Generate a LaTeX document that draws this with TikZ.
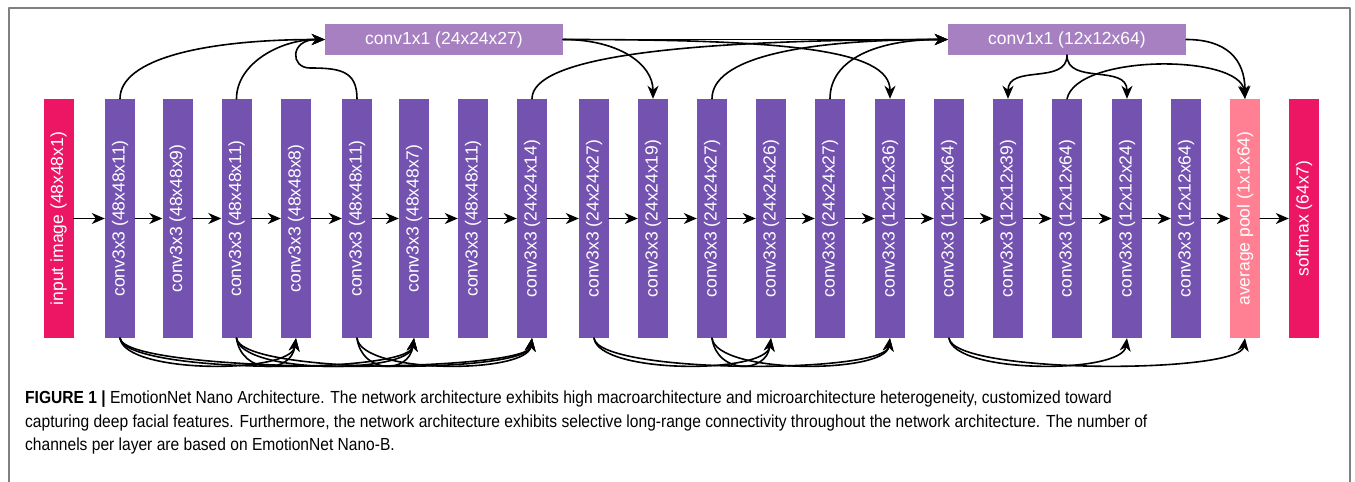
\documentclass[tikz,border=0pt]{standalone}
\usepackage{fontspec}
\setmainfont{Liberation Sans}
\newfontfamily\capfont[FakeStretch=0.89]{Liberation Sans}
\usepackage{graphicx}
\usepackage{pgf,tikz}
\usetikzlibrary{arrows.meta}

\definecolor{convpurple}{RGB}{115,82,176}
\definecolor{mixpurple}{RGB}{167,128,194}
\definecolor{inpink}{RGB}{236,22,100}
\definecolor{poolpink}{RGB}{255,128,146}
\definecolor{framegray}{RGB}{128,128,128}

\newcommand{\lab}[1]{\rotatebox{90}{#1}}

\begin{document}
\begin{tikzpicture}[line cap=round,line join=round,>={Stealth[length=13pt,width=11pt,inset=4pt]},x=1pt,y=1pt,
  layer/.style={fill=convpurple,minimum width=30pt,minimum height=239pt,inner sep=0pt,text=white,font=\fontsize{17.5}{21}\selectfont},
  mixer/.style={fill=mixpurple,minimum width=238pt,minimum height=31pt,inner sep=0pt,text=white,font=\fontsize{17.5}{21}\selectfont},
  link/.style={line width=1.6pt,->},
  caption/.style={anchor=base west,inner sep=0pt,font=\capfont\fontsize{17.5}{21}\selectfont}]
\useasboundingbox (0,0) rectangle (1355,-482);
\draw [line width=1.3pt,color=framegray] (9,-482) -- (9,-8) -- (1350,-8) -- (1350,-482);

% layers
\node [layer,fill=inpink] (n0) at (58.5,-218.5) {\lab{input image (48x48x1)}};
\node [layer] (n1) at (120,-218.5) {\lab{conv3x3 (48x48x11)}};
\node [layer] (n2) at (177.5,-218.5) {\lab{conv3x3 (48x48x9)}};
\node [layer] (n3) at (236.5,-218.5) {\lab{conv3x3 (48x48x11)}};
\node [layer] (n4) at (296,-218.5) {\lab{conv3x3 (48x48x8)}};
\node [layer] (n5) at (357,-218.5) {\lab{conv3x3 (48x48x11)}};
\node [layer] (n6) at (414,-218.5) {\lab{conv3x3 (48x48x7)}};
\node [layer] (n7) at (473,-218.5) {\lab{conv3x3 (48x48x11)}};
\node [layer] (n8) at (532,-218.5) {\lab{conv3x3 (24x24x14)}};
\node [layer] (n9) at (594,-218.5) {\lab{conv3x3 (24x24x27)}};
\node [layer] (n10) at (653,-218.5) {\lab{conv3x3 (24x24x19)}};
\node [layer] (n11) at (712,-218.5) {\lab{conv3x3 (24x24x27)}};
\node [layer] (n12) at (771,-218.5) {\lab{conv3x3 (24x24x26)}};
\node [layer] (n13) at (830,-218.5) {\lab{conv3x3 (24x24x27)}};
\node [layer] (n14) at (890,-218.5) {\lab{conv3x3 (12x12x36)}};
\node [layer] (n15) at (949,-218.5) {\lab{conv3x3 (12x12x64)}};
\node [layer] (n16) at (1008,-218.5) {\lab{conv3x3 (12x12x39)}};
\node [layer] (n17) at (1067,-218.5) {\lab{conv3x3 (12x12x64)}};
\node [layer] (n18) at (1127,-218.5) {\lab{conv3x3 (12x12x24)}};
\node [layer] (n19) at (1186,-218.5) {\lab{conv3x3 (12x12x64)}};
\node [layer,fill=poolpink] (n20) at (1245,-218.5) {\lab{average pool (1x1x64)}};
\node [layer,fill=inpink] (n21) at (1304,-218.5) {\lab{softmax (64x7)}};

\node [mixer] (k1) at (444,-39.5) {conv1x1 (24x24x27)};
\node [mixer] (k2) at (1067,-39.5) {conv1x1 (12x12x64)};
\coordinate (bend5) at (310,-68);

% main chain
\draw [link] (n0.east) -- (n1.west);
\draw [link] (n1.east) -- (n2.west);
\draw [link] (n2.east) -- (n3.west);
\draw [link] (n3.east) -- (n4.west);
\draw [link] (n4.east) -- (n5.west);
\draw [link] (n5.east) -- (n6.west);
\draw [link] (n6.east) -- (n7.west);
\draw [link] (n7.east) -- (n8.west);
\draw [link] (n8.east) -- (n9.west);
\draw [link] (n9.east) -- (n10.west);
\draw [link] (n10.east) -- (n11.west);
\draw [link] (n11.east) -- (n12.west);
\draw [link] (n12.east) -- (n13.west);
\draw [link] (n13.east) -- (n14.west);
\draw [link] (n14.east) -- (n15.west);
\draw [link] (n15.east) -- (n16.west);
\draw [link] (n16.east) -- (n17.west);
\draw [link] (n17.east) -- (n18.west);
\draw [link] (n18.east) -- (n19.west);
\draw [link] (n19.east) -- (n20.west);
\draw [link] (n20.east) -- (n21.west);

% long-range links over the top
\draw [link] (n1.north) .. controls +(0,40) and +(-120,0) .. (k1.west);
\draw [link] (n3.north) .. controls +(0,35) and +(-45,0) .. (k1.west);
\draw [link] (n5.north) .. controls +(0,28) and +(30,0) .. (bend5) .. controls +(-20,0) and +(-35,0) .. (k1.west);
\draw [link] (k1.east) .. controls +(55,0) and +(0,35) .. (n10.north);
\draw [link] (k1.east) .. controls +(220,0) and +(0,50) .. (n14.north);
\draw [link] (k1.east) -- (k2.west);
\draw [link] (n8.north) .. controls +(0,40) and +(-280,0) .. (k2.west);
\draw [link] (n11.north) .. controls +(0,40) and +(-150,0) .. (k2.west);
\draw [link] (n13.north) .. controls +(0,40) and +(-70,0) .. (k2.west);
\draw [link] (k2.south) .. controls +(0,-30) and +(0,35) .. (n16.north);
\draw [link] (k2.south) .. controls +(0,-30) and +(0,35) .. (n18.north);
\draw [link] (k2.east) .. controls +(40,0) and +(0,40) .. (n20.north);
\draw [link] (n17.north) .. controls +(10,45) and +(-5,45) .. (n20.north);

% long-range links underneath
\draw [link] (n1.south) .. controls +(5,-36) and +(-5,-36) .. (n4.south);
\draw [link] (n1.south) .. controls +(5,-36) and +(-5,-36) .. (n6.south);
\draw [link] (n1.south) .. controls +(5,-36) and +(-5,-36) .. (n8.south);
\draw [link] (n3.south) .. controls +(5,-36) and +(-5,-36) .. (n4.south);
\draw [link] (n3.south) .. controls +(5,-36) and +(-5,-36) .. (n6.south);
\draw [link] (n3.south) .. controls +(5,-36) and +(-5,-36) .. (n8.south);
\draw [link] (n5.south) .. controls +(5,-36) and +(-5,-36) .. (n6.south);
\draw [link] (n5.south) .. controls +(5,-36) and +(-5,-36) .. (n8.south);
\draw [link] (n9.south) .. controls +(5,-36) and +(-5,-36) .. (n12.south);
\draw [link] (n9.south) .. controls +(5,-36) and +(-5,-36) .. (n14.south);
\draw [link] (n11.south) .. controls +(5,-36) and +(-5,-36) .. (n12.south);
\draw [link] (n11.south) .. controls +(5,-36) and +(-5,-36) .. (n14.south);
\draw [link] (n15.south) .. controls +(5,-36) and +(-5,-36) .. (n18.south);
\draw [link] (n15.south) .. controls +(5,-36) and +(-5,-36) .. (n20.south);

% caption
\node [caption] (cap1) at (25,-403) {\textbf{FIGURE 1 |} EmotionNet Nano Architecture. The network architecture exhibits high macroarchitecture and microarchitecture heterogeneity, customized toward};
\node [caption] (cap2) at (25,-427) {capturing deep facial features. Furthermore, the network architecture exhibits selective long-range connectivity throughout the network architecture. The number of};
\node [caption] (cap3) at (25,-450.5) {channels per layer are based on EmotionNet Nano-B.};
\end{tikzpicture}
\end{document}
